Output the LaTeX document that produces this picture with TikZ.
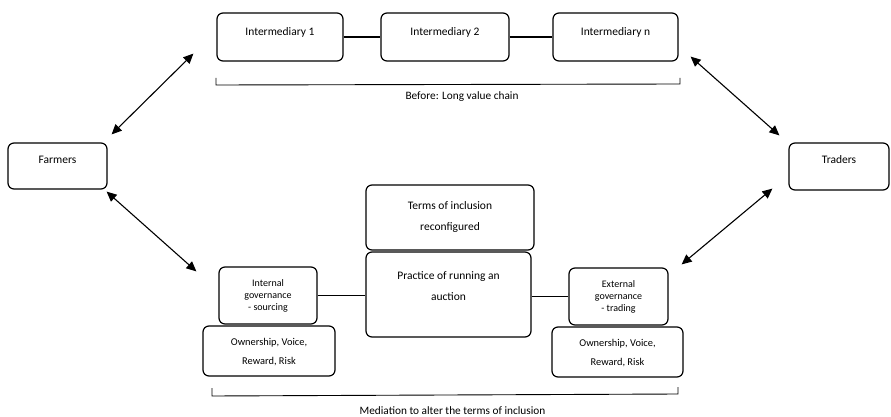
\documentclass[tikz,border=0pt]{standalone}
\usepackage{fontspec}
\setmainfont{Carlito}
\usetikzlibrary{calc,arrows.meta}
\tikzset{
  chain node/.style={
    draw, rounded corners=6pt, line width=1.2pt, align=center,
    inner sep=0pt, font=\fontsize{11.5}{14}\selectfont
  },
  small node/.style={
    chain node, font=\fontsize{10}{12}\selectfont
  },
  label text/.style={
    inner sep=0pt, font=\fontsize{11.3}{13}\selectfont
  },
  bracket/.style={
    line width=0.9pt
  }
}

\begin{document}
\begin{tikzpicture}[x=1pt, y=-1pt, >={Triangle[length=10pt,width=9pt]}, line width=1.1pt]
    \useasboundingbox (0,0) rectangle (891,417);
    % upper chain
    \draw (280,37) node[chain node, minimum width=126pt, minimum height=48pt, text height=8pt, text depth=11pt] (int1) {Intermediary 1};
    \draw (445,37) node[chain node, minimum width=128pt, minimum height=48pt, text height=8pt, text depth=11pt] (int2) {Intermediary 2};
    \draw (615.5,37) node[chain node, minimum width=125pt, minimum height=48pt, text height=8pt, text depth=11pt] (intn) {Intermediary n};
    \draw (57.5,166) node[chain node, minimum width=99pt, minimum height=46pt, text height=8pt, text depth=13pt] (farmers) {Farmers};
    \draw (839,166.5) node[chain node, minimum width=100pt, minimum height=47pt, text height=8pt, text depth=13pt] (traders) {Traders};
    \draw (int1) -- (int2);
    \draw (int2) -- (intn);
    \draw[bracket] (216,78) -- (216,85) -- (680,84) -- (680,78);
    \node[label text] (before) at (462,97) {Before: Long value chain};
    % auction
    \draw (450,217.5) node[chain node, minimum width=168pt, minimum height=65pt, text height=30pt, text depth=4pt] (terms) {Terms of inclusion\\[7pt]reconfigured};
    \draw (448.5,294.5) node[chain node, minimum width=165pt, minimum height=85pt, text height=20pt, text depth=8pt] (practice) {Practice of running an\\[7pt]auction};
    \draw (268,295.5) node[small node, minimum width=98pt, minimum height=57pt] (intgov) {Internal\\governance\\- sourcing};
    \draw (269,351) node[small node, font=\fontsize{10.4}{12}\selectfont, minimum width=132pt, minimum height=50pt, text height=29pt, text depth=2pt] (ownl) {Ownership, Voice,\\[7pt]Reward, Risk};
    \draw (618.5,296.5) node[small node, minimum width=99pt, minimum height=57pt] (extgov) {External\\governance\\- trading};
    \draw (617.5,352) node[small node, font=\fontsize{10.4}{12}\selectfont, minimum width=131pt, minimum height=50pt, text height=29pt, text depth=2pt] (ownr) {Ownership, Voice,\\[7pt]Reward, Risk};
    \draw (intgov.east) -- (intgov.east -| practice.west);
    \draw (extgov.west -| practice.east) -- (extgov.west);
    \draw[bracket] (212,388) -- (212,396) -- (678,394) -- (678,387);
    \node[label text] (mediation) at (452.5,411) {Mediation to alter the terms of inclusion};
    % arrows
    \draw[<->] ([shift={(4,-8)}]farmers.north east) -- ([shift={(-23,-8)}]int1.south west);
    \draw[<->] ([shift={(12,-5)}]intn.south east) -- ([shift={(-9,-7)}]traders.north west);
    \draw[<->] ([shift={(-1,2)}]farmers.south east) -- ([shift={(-22,5)}]intgov.north west);
    \draw[<->] ([shift={(-16,-2)}]traders.south west) -- ([shift={(13,-3)}]extgov.north east);
\end{tikzpicture}
\end{document}
